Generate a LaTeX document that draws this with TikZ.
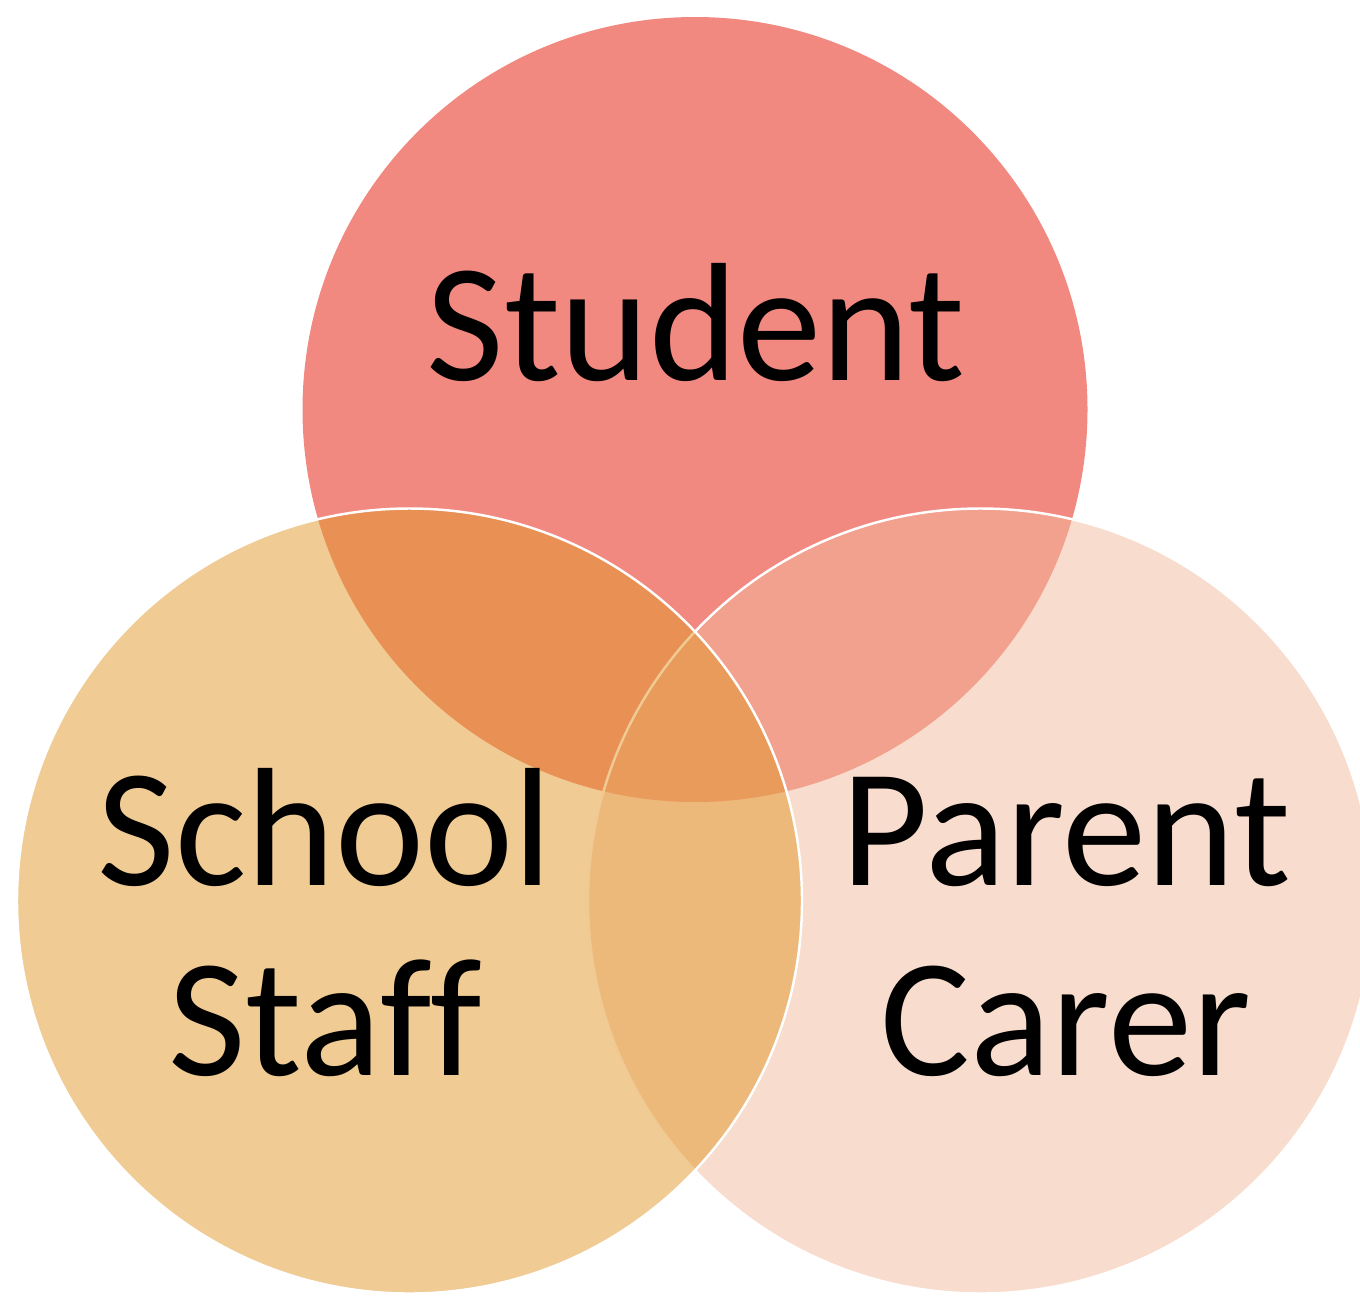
\documentclass[tikz,border=0pt]{standalone}
\usepackage{fontspec}
\setmainfont{Carlito}[Ligatures=CommonOff]
\definecolor{studentcol}{RGB}{242,137,128}
\definecolor{parentcol}{RGB}{241,185,155}
\definecolor{staffcol}{RGB}{225,151,41}
\begin{document}
\begin{tikzpicture}
  \tikzstyle{setcircle}=[circle, draw=white, line width=0.7pt, minimum size=7.85cm, inner sep=0pt]
  \tikzstyle{setlabel}=[align=center, anchor=base, font=\fontsize{48pt}{54pt}\selectfont]

  \useasboundingbox (0,0) rectangle (13.6,-12.96);

  \node[setcircle, draw=none, fill=studentcol]       (student) at (6.95,  -4.095) {};
  \node[setcircle, fill=parentcol, fill opacity=0.5] (parent)  at (9.805, -9.01)  {};
  \node[setcircle, fill=staffcol, fill opacity=0.5]  (staff)   at (4.095, -9.01)  {};

  \node[setlabel] (studentlabel) at (6.96,  -3.80)  {Student};
  \node[setlabel] (stafflabel)   at (3.25,  -10.75) {School\\Staff};
  \node[setlabel] (parentlabel)  at (10.66, -10.75) {Parent\\Carer};

\end{tikzpicture}
\end{document}
